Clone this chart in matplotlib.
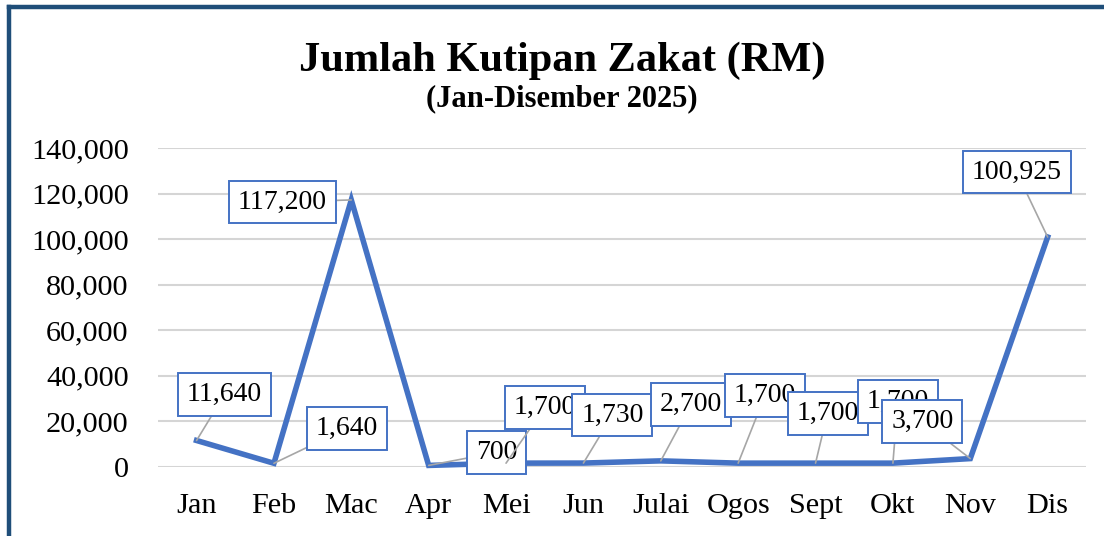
import matplotlib
matplotlib.use("Agg")
import matplotlib.pyplot as plt
from matplotlib.lines import Line2D

# data
months = ["Jan", "Feb", "Mac", "Apr", "Mei", "Jun", "Julai", "Ogos", "Sept", "Okt", "Nov", "Dis"]
zakat = [11640, 1640, 117200, 700, 1700, 1730, 2700, 1700, 1700, 1700, 3700, 100925]
yticks = [0, 20000, 40000, 60000, 80000, 100000, 120000, 140000]

# where each data label box sits, offset from its point (pixels, y up)
label_offsets = [(28, 46), (73, 35), (-69, -2), (68, 13), (39, 56), (29, 48),
                 (30, 56), (27, 68), (12, 50), (5, 62), (-48, 37), (-31, 65)]

blue = "#4472C4"
plt.rcParams["font.family"] = ["Liberation Serif", "DejaVu Serif"]

fig = plt.figure(figsize=(11.04, 5.36), dpi=100)
ax = fig.add_axes([0.143, 0.1287, 0.841, 0.5952])

x = list(range(len(months)))
ax.plot(x, zakat, color=blue, lw=4.0, solid_joinstyle="miter", clip_on=False, zorder=3)

ax.set_xlim(-0.5, len(months) - 0.5)
ax.set_ylim(0, 140000)
ax.set_yticks(yticks)
ax.set_yticklabels([f"{v:,}" for v in yticks])
ax.set_xticks(x)
ax.set_xticklabels(months)
ax.tick_params(axis="both", length=0, labelsize=21.8)
ax.tick_params(axis="y", pad=21)
ax.tick_params(axis="x", pad=19)
ax.grid(axis="y", color="#D5D5D5", lw=1.5)
ax.set_axisbelow(True)
for s in ax.spines.values():
    s.set_visible(False)

for i, v in enumerate(zakat):
    dx, dy = label_offsets[i]
    ax.annotate(f"{v:,}", xy=(i, v), xytext=(dx * 0.72, dy * 0.72),
                textcoords="offset points", ha="center", va="center",
                fontsize=20, zorder=5,
                bbox=dict(boxstyle="square,pad=0.32", fc="white", ec=blue, lw=1.4),
                arrowprops=dict(arrowstyle="-", color="#A6A6A6", lw=1.2,
                                shrinkA=0, shrinkB=0))

fig.text(0.509, 0.867, "Jumlah Kutipan Zakat (RM)", ha="center", va="baseline",
         fontsize=30.5, fontweight="bold")
fig.text(0.509, 0.802, "(Jan-Disember 2025)", ha="center", va="baseline",
         fontsize=22, fontweight="bold")

# outer frame (only top and left edges are visible in the original)
frame_col = "#1F4E79"
fig.add_artist(Line2D([9 / 1104, 1], [1 - 7 / 536, 1 - 7 / 536], color=frame_col, lw=3.2,
                      transform=fig.transFigure))
fig.add_artist(Line2D([9 / 1104, 9 / 1104], [0, 1 - 7 / 536], color=frame_col, lw=3.2,
                      transform=fig.transFigure, solid_capstyle="projecting"))

fig.savefig("out.png", dpi=100)
